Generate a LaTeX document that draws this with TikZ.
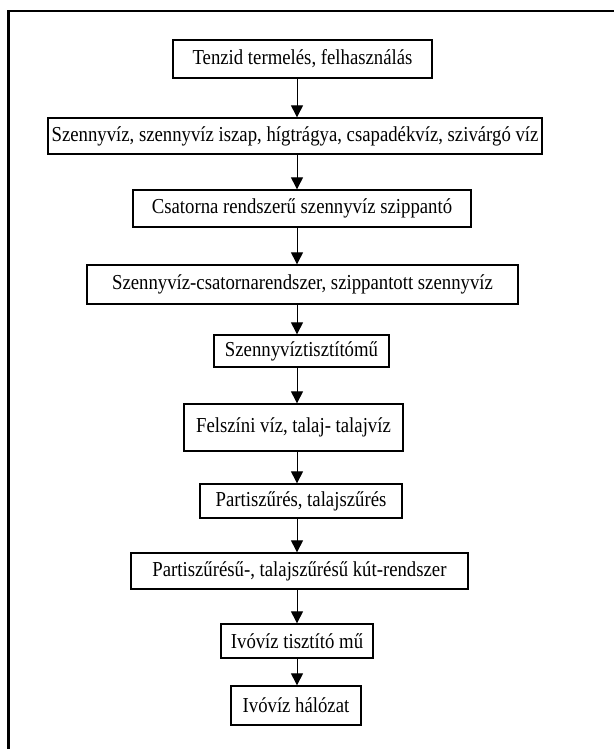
\documentclass[tikz,border=0pt]{standalone}
\usepackage{fontspec}
\setmainfont[FakeStretch=0.88]{Liberation Serif}
\usetikzlibrary{arrows.meta}
\begin{document}
\begin{tikzpicture}[x=1pt,y=-1pt,
  box/.style={draw=black,line width=1.3pt,fill=white,inner sep=0pt,
    font=\fontsize{21.3}{24}\selectfont,anchor=center},
  arr/.style={draw=black,line width=1pt,-{Triangle[length=12pt,width=12pt]}},
  frame/.style={draw=black,line width=2.6pt}]
\useasboundingbox (0,0) rectangle (614,749);
\fill[white] (0,0) rectangle (614,749);
\coordinate (fa) at (8.7,749);
\coordinate (fb) at (8.7,11.2);
\coordinate (fc) at (614,11.2);
\draw[frame] (fa) -- (fb) -- (fc);
\coordinate (ax) at (297,0);
\node[box,minimum width=259pt,minimum height=38pt] (b1) at (302.5,59) {Tenzid termelés, felhasználás};
\node[box,minimum width=494pt,minimum height=36pt] (b2) at (295,136) {Szennyvíz, szennyvíz iszap, hígtrágya, csapadékvíz, szivárgó víz};
\node[box,minimum width=338pt,minimum height=37pt] (b3) at (302,208.5) {Csatorna rendszerű szennyvíz szippantó};
\node[box,minimum width=431pt,minimum height=39pt] (b4) at (302.5,284.5) {Szennyvíz-csatornarendszer, szippantott szennyvíz};
\node[box,minimum width=175pt,minimum height=32pt] (b5) at (301.5,351) {Szennyvíztisztítómű};
\node[box,minimum width=219pt,minimum height=47pt] (b6) at (293.5,427.5) {Felszíni víz, talaj- talajvíz};
\node[box,minimum width=202pt,minimum height=34pt] (b7) at (301,501) {Partiszűrés, talajszűrés};
\node[box,minimum width=337pt,minimum height=36pt] (b8) at (299.5,571) {Partiszűrésű-, talajszűrésű kút-rendszer};
\node[box,minimum width=152pt,minimum height=34pt] (b9) at (297,641) {Ivóvíz tisztító mű};
\node[box,minimum width=130pt,minimum height=39pt] (b10) at (296,705.5) {Ivóvíz hálózat};
\foreach \a/\b in {b1/b2,b2/b3,b3/b4,b4/b5,b5/b6,b6/b7,b7/b8,b8/b9,b9/b10}
  \draw[arr] (\a.south -| ax) -- (\b.north -| ax);
\end{tikzpicture}
\end{document}
